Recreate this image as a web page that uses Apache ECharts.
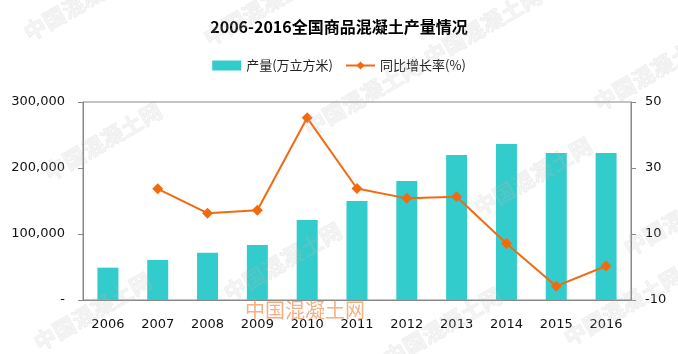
<!DOCTYPE html>
<html>
<head>
<meta charset="utf-8">
<script src="https://cdn.jsdelivr.net/npm/echarts@6/dist/echarts.min.js"></script>
<style>
  html, body { margin: 0; padding: 0; background: #fff; }
  #main { width: 678px; height: 354px; }
</style>
</head>
<body>
<div id="main"></div>
<script>
var years = ['2006', '2007', '2008', '2009', '2010', '2011', '2012', '2013', '2014', '2015', '2016'];
var output = [49000, 60600, 71700, 83300, 121200, 150000, 180300, 219700, 236400, 222700, 222700];
var growth = [null, 23.7, 16.3, 17.2, 45.2, 23.8, 20.8, 21.3, 7.1, -5.8, 0.3];

var chartDom = document.getElementById('main');
var myChart = echarts.init(chartDom);
var option;

// faint grey diagonal watermarks
var marks = [
  [20, 25], [200, 30], [420, 50], [590, 95],
  [40, 165], [300, 120], [470, 200], [620, 240],
  [30, 335], [220, 285], [380, 350], [560, 330]
];
var graphics = marks.map(function (p) {
  return {
    type: 'text',
    x: p[0],
    y: p[1],
    rotation: Math.PI / 6,
    silent: true,
    z: 100,
    style: {
      text: '中国混凝土网',
      font: 'bold 22px "Noto Sans CJK SC"',
      fill: 'rgba(200,200,200,0.16)',
      stroke: 'rgba(160,160,160,0.12)',
      lineWidth: 1
    }
  };
});
graphics.push({
  type: 'text',
  left: 245,
  top: 300,
  silent: true,
  z: 100,
  style: {
    text: '中国混凝土网',
    font: '20px "Noto Sans CJK SC"',
    fill: 'rgba(240,150,90,0.75)'
  }
});

option = {
  backgroundColor: '#fff',
  title: {
    text: '2006-2016全国商品混凝土产量情况',
    left: 'center',
    top: 14,
    textStyle: { fontSize: 16, fontWeight: 'bold', color: '#000', fontFamily: 'Noto Sans CJK SC' }
  },
  legend: {
    top: 54,
    left: 'center',
    itemWidth: 29,
    itemHeight: 10,
    itemGap: 12,
    textStyle: { fontSize: 13, color: '#222', fontFamily: 'Noto Sans CJK SC' },
    data: [
      { name: '产量(万立方米)', icon: 'rect' },
      { name: '同比增长率(%)' }
    ]
  },
  grid: { left: 83, right: 47, top: 102, bottom: 54, show: true, borderColor: '#888', borderWidth: 1 },
  xAxis: {
    type: 'category',
    data: years,
    axisLine: { lineStyle: { color: '#888' } },
    axisTick: { inside: true, length: 5, lineStyle: { color: '#888' } },
    axisLabel: { color: '#111', fontSize: 13, margin: 18, fontFamily: 'DejaVu Sans' }
  },
  yAxis: [
    {
      type: 'value',
      min: 0,
      max: 300000,
      interval: 100000,
      splitLine: { show: false },
      axisLine: { show: true, lineStyle: { color: '#888' } },
      axisTick: { show: true, length: 5, lineStyle: { color: '#888' } },
      axisLabel: {
        color: '#111', fontSize: 13, margin: 18, fontFamily: 'DejaVu Sans',
        formatter: function (v) { return v === 0 ? '-' : v.toLocaleString('en-US'); }
      }
    },
    {
      type: 'value',
      min: -10,
      max: 50,
      interval: 20,
      splitLine: { show: false },
      axisLine: { show: true, lineStyle: { color: '#888' } },
      axisTick: { show: true, length: 5, lineStyle: { color: '#888' } },
      axisLabel: { color: '#111', fontSize: 13, margin: 14, fontFamily: 'DejaVu Sans' }
    }
  ],
  series: [
    {
      name: '产量(万立方米)',
      type: 'bar',
      data: output,
      barWidth: 21,
      color: '#33CCCC'
    },
    {
      name: '同比增长率(%)',
      type: 'line',
      yAxisIndex: 1,
      data: growth,
      symbol: 'diamond',
      symbolSize: 11,
      lineStyle: { width: 2 },
      color: '#F26A10'
    }
  ],
  graphic: graphics
};

option && myChart.setOption(option);
</script>
</body>
</html>
